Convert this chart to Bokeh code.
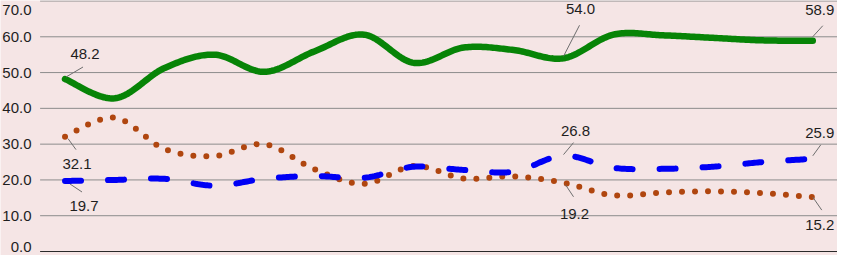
import numpy as np
from bokeh.plotting import figure
from bokeh.models import Range1d
from bokeh.core.properties import value
from bokeh.embed import file_html
from bokeh.resources import INLINE

# ---------------- data ----------------
categories = [str(i) for i in range(1, 17)]
green = [48.2, 42.8, 51.3, 55.0, 50.2, 55.9, 60.6, 52.7, 57.0, 56.3, 54.0, 60.6, 60.4, 59.7, 59.0, 58.9]
blue = [19.7, 20.0, 20.3, 18.4, 20.3, 21.1, 20.6, 23.7, 22.8, 22.3, 26.8, 23.4, 23.1, 23.7, 25.0, 25.9]
brown = [32.1, 37.4, 28.6, 26.7, 30.0, 23.0, 18.9, 23.9, 20.4, 21.0, 19.2, 15.7, 16.5, 16.8, 16.3, 15.2]
y_ticks = [0, 10, 20, 30, 40, 50, 60, 70]
y_tick_labels = [f"{t:.1f}" for t in y_ticks]
label_idx = [0, 10, 15]

# ---------------- styles ----------------
BG = "#F5E5E5"
GRID = "#8C8C8C"
TXT = "#1E1E1E"
C_GREEN = "#078407"
C_BLUE = "#0000F5"
C_BROWN = "#B0460F"
FONT = value("Liberation Sans")
FS = "15px"

W, H = 837, 255
step = 49.85          # px per category
left_px = 39.6        # frame px of category edge -0.5
x_start = -0.5 - left_px / step
x_end = x_start + W / step
y_top_px, y0_px = 0.5, 251.0
s = (y0_px - y_top_px) / 70.0
y_start = -(H - y0_px) / s
y_end = 70 + y_top_px / s

p = figure(width=W, height=H, x_range=Range1d(x_start, x_end),
           y_range=Range1d(y_start, y_end), output_backend="svg",
           toolbar_location=None, x_axis_type=None, y_axis_type=None,
           min_border=0)
p.grid.visible = False
p.outline_line_color = None
p.background_fill_color = BG
p.border_fill_color = BG

n = len(categories)
xs = np.arange(n, dtype=float)
x_lo, x_hi = -0.5, n - 0.5

# gridlines
p.segment(x0=[x_lo] * (len(y_ticks) - 1), y0=y_ticks[1:], x1=[x_hi] * (len(y_ticks) - 1),
          y1=y_ticks[1:], line_color=GRID, line_width=1)
p.segment(x0=[x_lo], y0=[y_ticks[0]], x1=[x_hi], y1=[y_ticks[0]], line_color="#2A2A2A", line_width=1)

# y tick labels (end labels nudged inward so they are not cut by the page edge)
lab_right = 31.0
tick_shift_px = [-5] + [0] * (len(y_ticks) - 2) + [8.5]
p.text(x=[x_lo + (lab_right - left_px) / step] * len(y_ticks),
       y=[t - d / s for t, d in zip(y_ticks, tick_shift_px)], text=y_tick_labels,
       text_align="right", text_baseline="middle", text_font=FONT,
       text_font_size=FS, text_color=TXT)


def smooth(xv, yv, k=30):
    P = np.column_stack([xv, yv]).astype(float)
    out = [P[0]]
    m = len(P)
    for i in range(m - 1):
        p0 = P[i - 1] if i > 0 else P[i]
        p1 = P[i]
        p2 = P[i + 1]
        p3 = P[i + 2] if i + 2 < m else P[i + 1]
        c1 = p1 + (p2 - p0) / 6.0
        c2 = p2 - (p3 - p1) / 6.0
        t = np.linspace(0, 1, k)[1:, None]
        b = ((1 - t) ** 3) * p1 + 3 * ((1 - t) ** 2) * t * c1 + 3 * (1 - t) * t ** 2 * c2 + t ** 3 * p2
        out.extend(b)
    out = np.array(out)
    return out[:, 0], out[:, 1]


gx, gy = smooth(xs, green)
bx, by = smooth(xs, blue)
rx, ry = smooth(xs, brown)
p.line(rx, ry, line_color=C_BROWN, line_width=6, line_dash="0 13", line_cap="round")
p.line(bx, by, line_color=C_BLUE, line_width=6, line_dash="16 27", line_cap="round")
p.line(gx, gy, line_color=C_GREEN, line_width=6.5, line_cap="round", line_join="round")

# data labels: offsets in px (dx right, dy down) for label centre and leader ends
offsets = {
    ("g", 0): ((20, -25), (1, -2), (18, -12)),
    ("r", 0): ((12, 27), (3, 2), (11, 13)),
    ("b", 0): ((19, 25), (5, 3), (17, 11)),
    ("g", 10): ((17, -49), (0, -2), (16, -33)),
    ("b", 10): ((12, -25), (0, -1), (10, -13)),
    ("r", 10): ((11, 31), (2, 2), (10, 14)),
    ("g", 15): ((7, -31), (0, -4), (10, -15)),
    ("b", 15): ((7, -26), (0, -3), (8, -14)),
    ("r", 15): ((7, 28), (0, 0), (9, 13)),
}
series = {"g": green, "b": blue, "r": brown}
lx, ly, lt = [], [], []
sx0, sy0, sx1, sy1 = [], [], [], []
for key, vals in series.items():
    for i in label_idx:
        (ldx, ldy), (a_dx, a_dy), (b_dx, b_dy) = offsets[(key, i)]
        v = vals[i]
        lx.append(i + ldx / step)
        ly.append(v - ldy / s)
        lt.append(f"{v:.1f}")
        sx0.append(i + a_dx / step)
        sy0.append(v - a_dy / s)
        sx1.append(i + b_dx / step)
        sy1.append(v - b_dy / s)

p.segment(x0=sx0, y0=sy0, x1=sx1, y1=sy1, line_color="#6E6E6E", line_width=1)
p.text(x=lx, y=ly, text=lt, text_align="center", text_baseline="middle",
       text_font=FONT, text_font_size=FS, text_color=TXT)

open("out.html", "w").write(file_html(p, INLINE))
